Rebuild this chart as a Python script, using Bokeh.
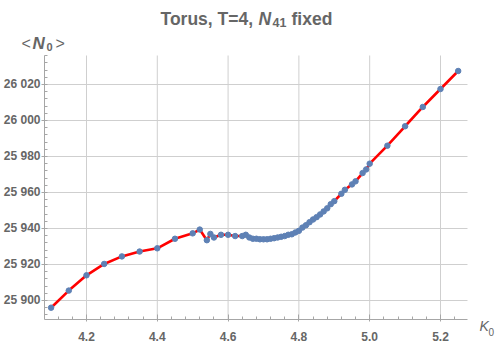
from bokeh.plotting import figure
from bokeh.models import (Range1d, SingleIntervalTicker, PrintfTickFormatter,
                          CustomJSTickFormatter, Label, LinearAxis)
from bokeh.embed import file_html
from bokeh.resources import INLINE

# ---- data ----
k0 = [4.10, 4.15, 4.20, 4.25, 4.30, 4.35, 4.40, 4.45, 4.50, 4.52, 4.54, 4.55,
      4.56, 4.58, 4.60, 4.62, 4.64, 4.65, 4.66, 4.67, 4.68, 4.69, 4.70, 4.71,
      4.72, 4.73, 4.74, 4.75, 4.76, 4.77, 4.78, 4.79, 4.80, 4.81, 4.82, 4.83,
      4.84, 4.85, 4.86, 4.87, 4.88, 4.89, 4.90, 4.92, 4.93, 4.95, 4.96, 4.98,
      4.99, 5.00, 5.05, 5.10, 5.15, 5.20, 5.25]
n0 = [25896.0, 25905.5, 25914.0, 25920.3, 25924.5, 25927.2, 25929.0, 25934.3,
      25937.3, 25939.4, 25933.5, 25937.0, 25935.0, 25936.5, 25936.5, 25935.8,
      25935.8, 25936.5, 25935.0, 25934.3, 25934.3, 25934.0, 25934.0, 25934.0,
      25934.3, 25934.6, 25935.0, 25935.4, 25935.8, 25936.5, 25936.8, 25937.8,
      25938.7, 25940.5, 25941.8, 25943.5, 25945.0, 25946.3, 25947.8, 25949.5,
      25951.2, 25953.5, 25955.2, 25959.3, 25961.5, 25964.5, 25966.2, 25970.8,
      25972.8, 25976.0, 25986.0, 25996.8, 26007.5, 26017.5, 26027.5]

x_ticks = [4.2, 4.4, 4.6, 4.8, 5.0, 5.2]
y_ticks = [25900, 25920, 25940, 25960, 25980, 26000, 26020]

title_parts = ["Torus, T=4, ", "N", "41", " fixed"]
ylabel_parts = ["<", "N", "0", ">"]
xlabel_parts = ["K", "0"]

# axis box of the chart (data units)
X0, X1 = 4.0814, 5.2763
Y0, Y1 = 25889.44, 26036.1
# the frame fills the whole canvas so that the texts outside the axis box show
W, H = 500, 343
PX_X, PX_Y = 354.0, 1.8          # pixels per data unit
LEFT, BOTTOM = 44, 319            # axis box left / bottom on the canvas
XS = X0 - LEFT / PX_X
XE = XS + W / PX_X
YS = Y0 - (H - BOTTOM) / PX_Y
YE = YS + H / PX_Y

GRAY = "#666666"
AXC = "#a6a6a6"
GRID = "#cfcfcf"
FONT = "Liberation Sans"

p = figure(width=W, height=H, output_backend="svg", toolbar_location=None,
           x_range=Range1d(XS, XE), y_range=Range1d(YS, YE),
           x_axis_location=None, y_axis_location=None, min_border=0)
p.outline_line_color = None
p.background_fill_color = "white"
p.border_fill_color = "white"
p.grid.visible = False

xt = SingleIntervalTicker(interval=0.2, num_minor_ticks=5)
yt = SingleIntervalTicker(interval=20, num_minor_ticks=5)

# grid lines, limited to the axis box
p.segment(x0=x_ticks, y0=[Y0] * len(x_ticks), x1=x_ticks, y1=[Y1] * len(x_ticks),
          line_color=GRID, line_width=1)
p.segment(x0=[X0] * len(y_ticks), y0=y_ticks, x1=[X1] * len(y_ticks), y1=y_ticks,
          line_color=GRID, line_width=1)

p.line(k0, n0, line_color="#ff0000", line_width=2.6)
p.scatter(k0, n0, size=5.5, fill_color="#5e81b5", line_color="#5e81b5")

xaxis = LinearAxis(ticker=xt, formatter=PrintfTickFormatter(format="%.1f"),
                   fixed_location=Y0, bounds=(X0, X1))
yaxis = LinearAxis(ticker=yt, fixed_location=X0, bounds=(Y0, Y1),
                   formatter=CustomJSTickFormatter(code="""
const s = Math.round(tick).toString();
return s.length > 3 ? s.slice(0, -3) + ' ' + s.slice(-3) : s;
"""))
for ax in (xaxis, yaxis):
    ax.axis_line_color = AXC
    ax.major_tick_line_color = AXC
    ax.minor_tick_line_color = AXC
    ax.major_label_text_font = FONT
    ax.major_label_text_font_style = "bold"
    ax.major_label_text_font_size = "12px"
    ax.major_label_text_color = GRAY
    ax.minor_tick_in = 3
    ax.minor_tick_out = 0
xaxis.major_tick_in = 5
xaxis.major_tick_out = 2
xaxis.major_label_standoff = 10
yaxis.major_tick_in = 0
yaxis.major_tick_out = 3
yaxis.major_label_standoff = 1
p.add_layout(xaxis, "below")
p.add_layout(yaxis, "left")


def lab(text, px, py, size, style):
    p.add_layout(Label(x=px, y=py, x_units="canvas", y_units="canvas",
                       text=text, text_font=FONT, text_font_size=size,
                       text_font_style=style, text_color=GRAY,
                       text_baseline="alphabetic", text_align="left"))


# title
tb = 18
lab(title_parts[0], 160, tb, "17.5px", "bold")
lab(title_parts[1], 258, tb, "17.5px", "bold italic")
lab(title_parts[2], 272, tb + 4, "12.5px", "bold")
lab(title_parts[3], 291, tb, "17.5px", "bold")

# y label
yb = 43
lab(ylabel_parts[0], 21, yb, "16px", "normal")
lab(ylabel_parts[1], 32, yb, "17px", "bold italic")
lab(ylabel_parts[2], 46, yb + 3, "11px", "bold")
lab(ylabel_parts[3], 55, yb, "16px", "normal")

# x label
xb = 325
lab(xlabel_parts[0], 479, xb, "14px", "italic")
lab(xlabel_parts[1], 488, xb + 6, "10px", "normal")

open("out.html", "w").write(file_html(p, INLINE))
